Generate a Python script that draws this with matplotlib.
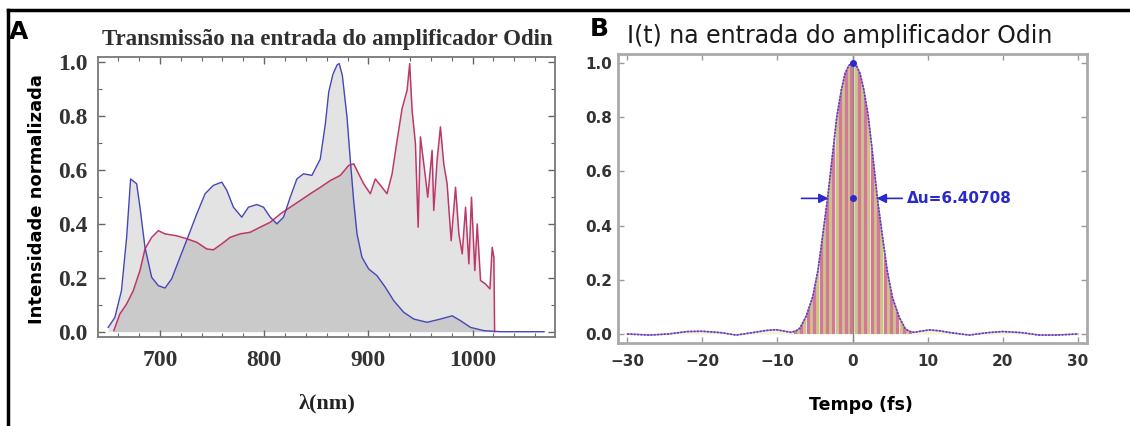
import matplotlib
matplotlib.use('Agg')
import matplotlib.pyplot as plt
from matplotlib.ticker import MultipleLocator
from matplotlib.lines import Line2D

# espectro na entrada (azul) e transmissao (vermelho), painel A
blue_wl = [650.3, 656.7, 663, 668, 671.8, 677.6, 680.8, 685.6, 692, 698.4, 704.8, 711.2,
           719.2, 727.3, 735.3, 743.3, 751.3, 759.3, 764.1, 770.5, 778.5, 784.9, 792.9,
           799.4, 805.8, 812.2, 818.6, 825, 831.4, 837.8, 845.8, 853.8, 858.7, 862, 866,
           870, 872, 875, 879.5, 882.7, 885.9, 889.1, 893.9, 900.3, 908.3, 916.3, 924.4,
           934, 943.6, 956.4, 969.2, 980.5, 988.5, 998.1, 1010.9, 1027, 1045, 1068.6]
blue_val = [0.016, 0.053, 0.152, 0.35, 0.567, 0.549, 0.462, 0.313, 0.202, 0.171, 0.162,
            0.196, 0.276, 0.356, 0.437, 0.512, 0.543, 0.555, 0.525, 0.462, 0.425, 0.462,
            0.472, 0.462, 0.425, 0.400, 0.425, 0.499, 0.567, 0.586, 0.580, 0.64, 0.77,
            0.89, 0.955, 0.99, 0.995, 0.952, 0.797, 0.636, 0.487, 0.363, 0.276, 0.233,
            0.208, 0.165, 0.115, 0.072, 0.047, 0.035, 0.047, 0.059, 0.041, 0.016, 0.004,
            0.0, 0.0, 0.0]

red_wl = [655.7, 661.5, 668, 674.3, 680.8, 685.6, 692, 698.4, 704.8, 716, 725.6, 735.3,
          744.9, 751.3, 759.3, 767.3, 776.9, 786.6, 796.2, 805.8, 815.5, 825, 834.7, 844.3,
          854, 863.5, 873.1, 881.1, 886, 890.7, 895.5, 901.9, 906.7, 913.1, 917.9, 922.8,
          927.6, 932.4, 937.2, 939.7, 942, 945.2, 947.8, 950, 954.8, 957, 961.2, 962.8,
          966, 969.2, 972.4, 975.6, 979.5, 983.7, 986.9, 990.1, 993.3, 996.5, 999,
          1002.2, 1004.5, 1007.7, 1012.5, 1016.7, 1018.9, 1020.5, 1021.2]
red_val = [0.004, 0.066, 0.103, 0.152, 0.227, 0.307, 0.35, 0.375, 0.363, 0.356, 0.345,
           0.332, 0.307, 0.304, 0.326, 0.35, 0.363, 0.369, 0.388, 0.406, 0.437, 0.462,
           0.487, 0.512, 0.536, 0.561, 0.58, 0.617, 0.623, 0.586, 0.549, 0.512, 0.567,
           0.536, 0.512, 0.586, 0.71, 0.828, 0.896, 0.995, 0.821, 0.698, 0.388, 0.723,
           0.574, 0.499, 0.673, 0.45, 0.636, 0.76, 0.623, 0.549, 0.338, 0.536, 0.363,
           0.289, 0.462, 0.252, 0.499, 0.227, 0.4, 0.19, 0.177, 0.159, 0.313, 0.276, 0.0]

# envelope de I(t), painel B
t_env = [-30, -27, -24.5, -22, -20, -17.5, -15.5, -13.3, -11.5, -10.2, -9, -8.2, -7.5, -7,
         -6.2, -5.3, -4.6, -4, -3.3, -2.6, -2.1, -1.5, -1, -0.5, 0, 0.5, 1, 1.5, 2.1, 2.6,
         3.3, 4, 4.6, 5.3, 6.2, 7, 7.5, 8.2, 9, 10.2, 11.5, 13, 15.5, 18, 20, 22.5, 24.8,
         27, 30]
i_env = [0.0, -0.004, 0.0, 0.009, 0.01, 0.005, -0.004, 0.005, 0.013, 0.016, 0.01, 0.006,
         0.012, 0.022, 0.064, 0.137, 0.236, 0.359, 0.506, 0.678, 0.801, 0.899, 0.961, 0.99,
         1.0, 0.99, 0.96, 0.9, 0.8, 0.68, 0.5, 0.355, 0.235, 0.135, 0.062, 0.02, 0.01,
         0.006, 0.01, 0.015, 0.012, 0.005, -0.004, 0.005, 0.009, 0.005, -0.004, -0.004, 0.0]

# oscilacoes da portadora (posicoes das faixas)
t_pink = [-7.65, -6.8, -5.95, -5.1, -4.25, -3.4, -2.55, -1.7, -0.85, -0.15, 0.85, 1.7,
          2.55, 3.4, 4.25, 5.1, 5.95, 6.8, 7.65]
t_khaki = [-7.2, -6.4, -5.5, -4.7, -3.8, -3.0, -2.1, -1.3, -0.45, 0.4, 1.3, 2.1, 3.0, 3.8,
           4.7, 5.5, 6.4, 7.2]

fwhm = 6.40708
x_ticks_a = [700, 800, 900, 1000]
y_ticks = [0.0, 0.2, 0.4, 0.6, 0.8, 1.0]
x_ticks_b = [-30, -20, -10, 0, 10, 20, 30]

SERIF = 'Liberation Serif'
SANS = 'DejaVu Sans'

fig = plt.figure(figsize=(11.3, 4.26), dpi=100)

# ---------------- painel A ----------------
ax = fig.add_axes([0.087, 0.208, 0.404, 0.658])
ax.fill_between(blue_wl, blue_val, 0, color='black', alpha=0.11, lw=0)
ax.fill_between(red_wl, red_val, 0, color='black', alpha=0.11, lw=0)
ax.plot(blue_wl, blue_val, color='#4646b8', lw=1.0)
ax.plot(red_wl, red_val, color='#b8245c', lw=1.1, alpha=0.9)
ax.set_xlim(640.8, 1079)
ax.set_ylim(-0.021, 1.019)
ax.set_xticks(x_ticks_a)
ax.set_yticks(y_ticks)
ax.set_yticklabels(['%.1f' % v for v in y_ticks])
ax.xaxis.set_minor_locator(MultipleLocator(20))
ax.yaxis.set_minor_locator(MultipleLocator(0.1))
ax.tick_params(which='both', direction='in', top=True, right=True, colors='#666666',
               labelcolor='#333333')
ax.tick_params(which='major', length=5, width=1)
ax.tick_params(which='minor', length=3, width=0.8)
ax.tick_params(axis='x', pad=9)
ax.tick_params(axis='y', pad=8)
for lab in ax.get_xticklabels() + ax.get_yticklabels():
    lab.set_fontfamily(SERIF)
    lab.set_fontweight('bold')
    lab.set_fontsize(17)
for sp in ax.spines.values():
    sp.set_color('#777777')
    sp.set_linewidth(1.3)

fig.text(327 / 1130, 1 - 39 / 426, 'Transmissão na entrada do amplificador Odin',
         family=SERIF, weight='bold', size=16.5, color='#303030', ha='center', va='center')
fig.text(327 / 1130, 1 - 403 / 426, 'λ(nm)', family=SERIF, weight='bold', size=16,
         color='#222222', ha='center', va='center')
fig.text(37 / 1130, 1 - 199 / 426, 'Intensidade normalizada', family=SANS, weight='bold',
         size=13, rotation=90, ha='center', va='center')
fig.text(19 / 1130, 1 - 32 / 426, 'A', family=SANS, weight='bold', size=18,
         ha='center', va='center')

# ---------------- painel B ----------------
bx = fig.add_axes([0.547, 0.195, 0.415, 0.678])
env_fill = bx.fill_between(t_env, i_env, 0, color='#f6f2d8', lw=0)
clip = env_fill.get_paths()[0]
lc1 = bx.vlines(t_khaki, -0.05, 1.05, color='#cdc585', lw=2.3)
lc2 = bx.vlines(t_pink, -0.05, 1.05, color='#d4779d', lw=2.3)
for lc in (lc1, lc2):
    lc.set_clip_path(clip, bx.transData)
bx.plot(t_env, i_env, color='#d77aa0', lw=1.0)
bx.axvline(0, color='#888888', lw=1.0)
bx.plot(t_env, i_env, color='#4444d4', lw=1.2, ls=(0, (1.2, 0.8)))
bx.plot([0, 0], [1.0, 0.5], ls='none', marker='o', ms=4, color='#2a2ac8')

blue_txt = '#2a2acc'
bx.annotate('', xy=(-fwhm / 2, 0.5), xytext=(-6.8, 0.5),
            arrowprops=dict(arrowstyle='-|>', color=blue_txt, lw=1.2, mutation_scale=14,
                            shrinkA=0, shrinkB=0))
bx.annotate('', xy=(fwhm / 2, 0.5), xytext=(6.6, 0.5),
            arrowprops=dict(arrowstyle='-|>', color=blue_txt, lw=1.2, mutation_scale=14,
                            shrinkA=0, shrinkB=0))
bx.text(7.2, 0.5, 'Δu=%g' % fwhm, color=blue_txt, family=SANS, weight='bold', size=11,
        ha='left', va='center')

bx.set_xlim(-31.2, 31.2)
bx.set_ylim(-0.033, 1.032)
bx.set_xticks(x_ticks_b)
bx.set_yticks(y_ticks)
bx.set_yticklabels(['%.1f' % v for v in y_ticks])
bx.tick_params(direction='in', top=True, right=True, length=4, width=1,
               colors='#999999', labelcolor='#333333', labelsize=11)
bx.tick_params(axis='x', pad=8)
bx.tick_params(axis='y', pad=4)
for lab in bx.get_xticklabels() + bx.get_yticklabels():
    lab.set_fontfamily(SANS)
    lab.set_fontweight('bold')
for sp in bx.spines.values():
    sp.set_color('#aaaaaa')
    sp.set_linewidth(2)

fig.text(840 / 1130, 1 - 36 / 426, 'I(t) na entrada do amplificador Odin', family=SANS,
         size=17, color='#1a1a1a', ha='center', va='center')
fig.text(861 / 1130, 1 - 405 / 426, 'Tempo (fs)', family=SANS, weight='bold', size=12.5,
         ha='center', va='center')
fig.text(599 / 1130, 1 - 29 / 426, 'B', family=SANS, weight='bold', size=18,
         ha='center', va='center')

# moldura da figura (topo e esquerda)
fig.add_artist(Line2D([0.0071, 0.0071], [0, 0.9765], transform=fig.transFigure,
                      color='black', lw=2.5))
fig.add_artist(Line2D([0.0071, 1], [0.9765, 0.9765], transform=fig.transFigure,
                      color='black', lw=2.5))

fig.savefig('out.png', dpi=100)
